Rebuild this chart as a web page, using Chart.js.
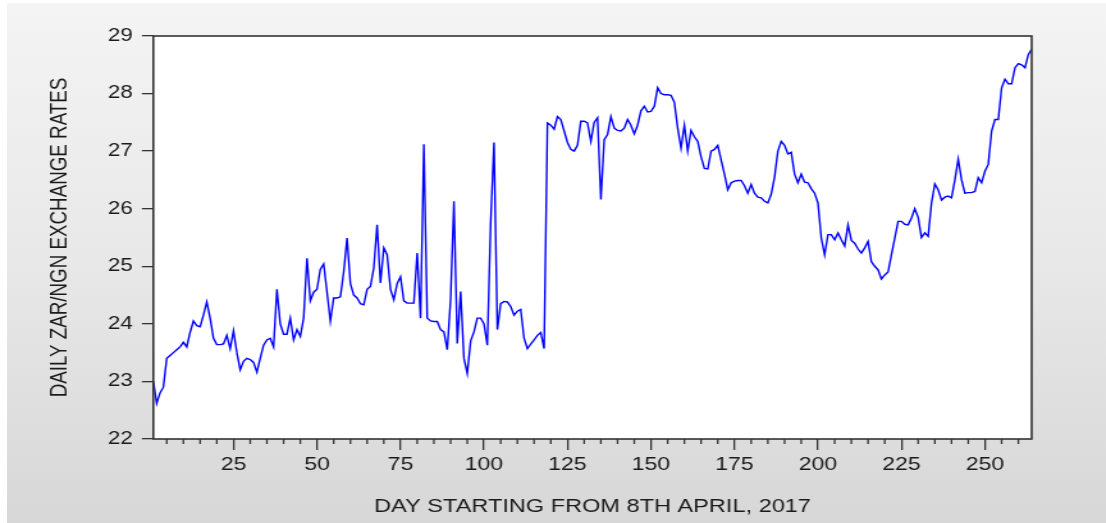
<!DOCTYPE html>
<html>
<head>
<meta charset="utf-8">
<script src="https://cdn.jsdelivr.net/npm/chart.js@4.4.1/dist/chart.umd.min.js"></script>
<style>
  html, body { margin: 0; padding: 0; background: #fff; }
  body { width: 1106px; height: 523px; position: relative; overflow: hidden; }
  #bg { position: absolute; left: 7px; top: 3px; width: 1099px; height: 520px;
        background: linear-gradient(to bottom, #f4f4f4 0%, #e8e8e8 50%, #d7d7d7 100%); }
  /* the reference picture is stretched sideways, so the chart is drawn narrow and widened */
  #wrap { position: absolute; left: 0; top: 0; width: 864px; height: 523px;
          transform: scaleX(1.28); transform-origin: 0 0; }
</style>
</head>
<body>
<div id="bg"></div>
<div id="wrap"><canvas id="rateChart"></canvas></div>
<script>
// daily ZAR/NGN rate, day 1 = 8 April 2017
const rates = [
  23.0, 22.62, 22.8, 22.9, 23.4, 23.45, 23.5, 23.55, 23.6, 23.68,
  23.6, 23.85, 24.05, 23.97, 23.95, 24.15, 24.38, 24.1, 23.75, 23.64,
  23.64, 23.65, 23.8, 23.57, 23.88, 23.5, 23.2, 23.35, 23.4, 23.38,
  23.33, 23.16, 23.4, 23.63, 23.72, 23.75, 23.6, 24.6, 24.0, 23.82,
  23.82, 24.1, 23.72, 23.9, 23.78, 24.1, 25.14, 24.4, 24.55, 24.6,
  24.95, 25.04, 24.55, 24.05, 24.45, 24.45, 24.47, 24.9, 25.49, 24.7,
  24.5, 24.45, 24.35, 24.33, 24.6, 24.65, 24.97, 25.72, 24.71, 25.32,
  25.2, 24.6, 24.42, 24.7, 24.82, 24.4, 24.36, 24.36, 24.36, 25.23,
  24.1, 27.12, 24.1, 24.05, 24.04, 24.04, 23.9, 23.86, 23.55, 24.42,
  26.13, 23.66, 24.56, 23.4, 23.14, 23.7, 23.86, 24.1, 24.1, 24.0,
  23.63, 25.75, 27.15, 23.9, 24.35, 24.39, 24.38, 24.3, 24.15, 24.22,
  24.25, 23.75, 23.57, 23.65, 23.72, 23.8, 23.85, 23.57, 27.49, 27.45,
  27.38, 27.6, 27.55, 27.35, 27.15, 27.03, 27.0, 27.1, 27.52, 27.52,
  27.49, 27.17, 27.5, 27.58, 26.16, 27.2, 27.29, 27.6, 27.4, 27.36,
  27.35, 27.4, 27.55, 27.45, 27.3, 27.45, 27.7, 27.78, 27.68, 27.69,
  27.78, 28.1, 28.0, 27.98, 27.98, 27.97, 27.85, 27.4, 27.05, 27.45,
  27.0, 27.36, 27.25, 27.17, 26.9, 26.7, 26.69, 27.0, 27.03, 27.1,
  26.85, 26.6, 26.33, 26.45, 26.48, 26.49, 26.49, 26.4, 26.27, 26.42,
  26.27, 26.2, 26.19, 26.13, 26.1, 26.25, 26.55, 27.0, 27.17, 27.1,
  26.95, 26.98, 26.6, 26.45, 26.6, 26.46, 26.45, 26.35, 26.27, 26.1,
  25.49, 25.2, 25.55, 25.55, 25.46, 25.58, 25.46, 25.35, 25.72, 25.45,
  25.4, 25.3, 25.23, 25.32, 25.43, 25.08, 25.0, 24.94, 24.78, 24.85,
  24.9, 25.2, 25.49, 25.78, 25.78, 25.73, 25.72, 25.84, 26.0, 25.85,
  25.5, 25.58, 25.52, 26.1, 26.43, 26.33, 26.15, 26.2, 26.22, 26.19,
  26.5, 26.86, 26.5, 26.27, 26.28, 26.28, 26.3, 26.54, 26.45, 26.65,
  26.77, 27.35, 27.55, 27.55, 28.1, 28.25, 28.17, 28.17, 28.45, 28.52,
  28.5, 28.45, 28.68, 28.77
];
const firstDay = 1;
const yMin = 22, yMax = 29, yStep = 1;
const minorStep = 5, majorStep = 25;
const xTitle = 'DAY STARTING FROM 8TH APRIL, 2017';
const yTitle = 'DAILY ZAR/NGN EXCHANGE RATES';

const points = rates.map((v, i) => ({ x: firstDay + i, y: v }));
const frameColor = '#333333';
const textColor = '#1a1a1a';
const fontFamily = '"Liberation Sans", Arial, sans-serif';

// white plot area, frame and the short minor ticks on the day axis
const framePlugin = {
  id: 'frame',
  beforeDatasetsDraw(chart) {
    const a = chart.chartArea, c = chart.ctx;
    c.save();
    c.fillStyle = '#ffffff';
    c.fillRect(a.left, a.top, a.right - a.left, a.bottom - a.top);
    c.restore();
  },
  afterDraw(chart) {
    const a = chart.chartArea, c = chart.ctx, xs = chart.scales.x;
    c.save();
    c.strokeStyle = frameColor;
    c.lineWidth = 1.6;
    c.strokeRect(a.left, a.top, a.right - a.left, a.bottom - a.top);
    c.lineWidth = 1.3;
    xs.ticks.forEach(t => {
      if (t.value % majorStep === 0) return;
      const px = xs.getPixelForValue(t.value);
      c.beginPath();
      c.moveTo(px, a.bottom);
      c.lineTo(px, a.bottom + 5);
      c.stroke();
    });
    c.restore();
  }
};

new Chart(document.getElementById('rateChart'), {
  type: 'line',
  data: {
    datasets: [{
      data: points,
      borderColor: '#0000ff',
      borderWidth: 1.4,
      pointRadius: 0,
      tension: 0,
      fill: false
    }]
  },
  options: {
    responsive: true,
    maintainAspectRatio: false,
    animation: false,
    events: [],
    layout: { padding: { left: 0, top: 36, right: 58, bottom: 0 } },
    plugins: { legend: { display: false }, tooltip: { enabled: false } },
    scales: {
      x: {
        type: 'linear',
        min: firstDay,
        max: firstDay + rates.length - 1,
        afterFit: s => { s.height = 84; },
        border: { display: false },
        grid: {
          drawOnChartArea: false,
          tickLength: 11,
          lineWidth: 1.3,
          tickColor: ctx => (ctx.tick && ctx.tick.value % majorStep === 0) ? frameColor : 'rgba(0,0,0,0)'
        },
        ticks: {
          stepSize: minorStep,
          includeBounds: false,
          autoSkip: false,
          maxRotation: 0,
          padding: 4,
          color: textColor,
          font: { family: fontFamily, size: 18 },
          callback: v => (v % majorStep === 0 ? String(v) : '')
        },
        title: {
          display: true,
          text: xTitle,
          color: textColor,
          font: { family: fontFamily, size: 18.4 },
          padding: { top: 0, bottom: 5 }
        }
      },
      y: {
        min: yMin,
        max: yMax,
        afterFit: s => { s.width = 119.8; },
        border: { display: false },
        grid: { drawOnChartArea: false, tickLength: 9, tickColor: frameColor, lineWidth: 1.3 },
        ticks: {
          stepSize: yStep,
          padding: 7,
          color: textColor,
          font: { family: fontFamily, size: 17.5 }
        },
        title: {
          display: true,
          text: yTitle,
          color: textColor,
          font: { family: fontFamily, size: 18.8 },
          padding: { top: 35.5, bottom: 0 }
        }
      }
    }
  },
  plugins: [framePlugin]
});
</script>
</body>
</html>
